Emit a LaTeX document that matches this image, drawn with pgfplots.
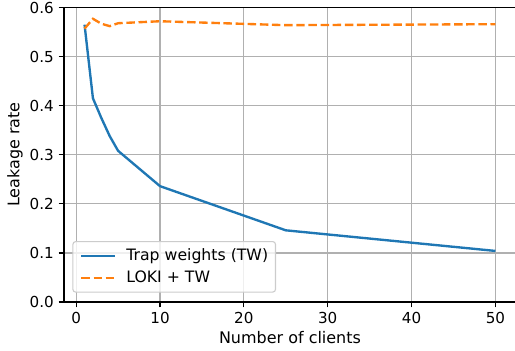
\documentclass[border=0pt]{standalone}
\usepackage{pgfplots}
\pgfplotsset{compat=1.18}
\usepackage{fontspec}
\setmainfont{DejaVu Sans}
\definecolor{mplblue}{HTML}{1F77B4}
\definecolor{mplorange}{HTML}{FF7F0E}
\definecolor{gridgray}{HTML}{B0B0B0}
\begin{document}
\begin{tikzpicture}
\begin{axis}[
  name=ax,
  scale only axis,
  width=325.4pt, height=212pt,
  xmin=-1.45, xmax=52.45,
  ymin=0, ymax=0.6,
  axis x line=box, axis y line=left,
  axis line style={-, line width=0.88pt},
  xtick={0,10,20,30,40,50},
  ytick={0,0.1,0.2,0.3,0.4,0.5,0.6},
  /pgf/number format/assume math mode=true,
  tick align=outside,
  major tick length=3.85pt,
  tick style={line width=0.88pt, black},
  xtick pos=bottom, ytick pos=left,
  grid=major,
  major grid style={gridgray, line width=0.88pt},
  tick label style={font=\fontsize{10.9}{13}\selectfont},
  yticklabel style={/pgf/number format/fixed, /pgf/number format/fixed zerofill, /pgf/number format/precision=1},
  every axis x label/.style={at={(rel axis cs:0.5,0)}, anchor=base, yshift=-30.2pt, font=\fontsize{11.5}{14}\selectfont},
  every axis y label/.style={at={(rel axis cs:0,0.5)}, anchor=center, rotate=90, yshift=35.3pt, font=\fontsize{11.5}{14}\selectfont},
  xlabel={Number of clients},
  ylabel={Leakage rate},
  legend style={at={(0,0)}, anchor=south west, xshift=6pt, yshift=6.7pt,
    draw=black!20, line width=0.8pt, fill=white, fill opacity=0.8, text opacity=1,
    rounded corners=2pt, font=\fontsize{11.3}{13.5}\selectfont,
    nodes={inner sep=0pt},
    row sep=5.8pt, inner xsep=5.3pt, inner ysep=5.3pt},
  legend cell align=left,
  legend image code/.code={\draw[#1] (0pt,0pt) -- (24.5pt,0pt); \path (31.5pt,0pt);},
]
\addplot[mplblue, line width=1.7pt] coordinates {
(1,0.565) (2,0.415) (3,0.375) (4,0.338) (5,0.308) (10,0.236) (25,0.146) (50,0.104)};
\addlegendentry{Trap weights (TW)}
\addplot[mplorange, line width=1.7pt, dash pattern=on 6.1pt off 2.64pt] coordinates {
(1,0.557) (2,0.577) (3,0.567) (4,0.562) (5,0.568) (10,0.572) (25,0.564) (50,0.566)};
\addlegendentry{LOKI + TW}
\end{axis}
\pgfresetboundingbox
\path[use as bounding box] ([xshift=-46.08pt,yshift=-35.28pt]ax.south west) rectangle ([xshift=-0.72pt,yshift=5.4pt]ax.north east);
\end{tikzpicture}
\end{document}
